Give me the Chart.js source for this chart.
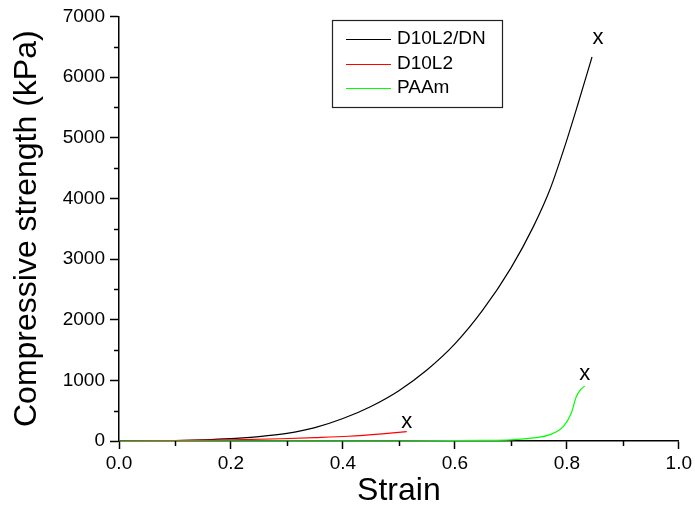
<!DOCTYPE html>
<html>
<head>
<meta charset="utf-8">
<script src="https://cdn.jsdelivr.net/npm/chart.js@4"></script>
<style>
  html, body { margin: 0; padding: 0; background: #fff; }
  #wrap { width: 695px; height: 510px; }
</style>
</head>
<body>
<div id="wrap"><canvas id="chart" width="695" height="510"></canvas></div>
<script>
// values (strain, kPa)
const dnStrain = [0, 0.05, 0.1, 0.15, 0.2, 0.25, 0.3, 0.35, 0.4, 0.45, 0.5, 0.55, 0.6, 0.65, 0.7, 0.74, 0.77, 0.795, 0.82, 0.845];
const dnStress = [0, 2, 8, 20, 40, 72, 125, 220, 370, 570, 830, 1170, 1600, 2160, 2850, 3530, 4150, 4820, 5560, 6330];

const d10Strain = [0, 0.1, 0.2, 0.29, 0.35, 0.41, 0.47, 0.514];
const d10Stress = [0, 6, 18, 37, 55, 78, 118, 155];

const paamStrain = [0, 0.3, 0.5, 0.6, 0.65, 0.7, 0.74, 0.77, 0.794, 0.808, 0.817, 0.825, 0.832];
const paamStress = [0, 1, 3, 6, 10, 20, 50, 105, 240, 460, 733, 850, 905];

const seriesLabels = ['D10L2/DN', 'D10L2', 'PAAm'];
const seriesColors = ['#000000', '#ff0000', '#00ff00'];

const FONT = '"Liberation Sans", Arial, sans-serif';

const toPoints = (xs, ys) => xs.map((x, i) => ({ x: x, y: ys[i] }));

// "x" drawn above the last point of each curve (failure point)
const endMarks = {
    id: 'endMarks',
    afterDatasetsDraw(chart) {
        const ctx = chart.ctx;
        const xs = chart.scales.x, ys = chart.scales.y;
        ctx.save();
        ctx.fillStyle = '#000';
        ctx.font = '22px ' + FONT;
        ctx.textAlign = 'center';
        ctx.textBaseline = 'alphabetic';
        chart.data.datasets.forEach(ds => {
            const last = ds.data[ds.data.length - 1];
            const px = xs.getPixelForValue(last.x) + ds.markDx;
            const py = ys.getPixelForValue(last.y) + ds.markDy;
            ctx.fillText('x', px, py);
        });
        ctx.restore();
    }
};

// minor ticks (half length) on both axes
const minorTicks = {
    id: 'minorTicks',
    afterDraw(chart) {
        const ctx = chart.ctx;
        const xs = chart.scales.x, ys = chart.scales.y;
        ctx.save();
        ctx.strokeStyle = '#000';
        ctx.lineWidth = 1.5;
        ys.ticks.forEach(t => {
            if (t.value % 1000 !== 0) {
                const y = Math.round(ys.getPixelForValue(t.value)) + 0.5;
                ctx.beginPath();
                ctx.moveTo(ys.right, y);
                ctx.lineTo(ys.right - 5, y);
                ctx.stroke();
            }
        });
        xs.ticks.forEach(t => {
            if (Math.round(t.value * 10) % 2 !== 0) {
                const x = Math.round(xs.getPixelForValue(t.value)) + 0.5;
                ctx.beginPath();
                ctx.moveTo(x, xs.top);
                ctx.lineTo(x, xs.top + 5);
                ctx.stroke();
            }
        });
        ctx.restore();
    }
};

// boxed legend inside the plot
const boxLegend = {
    id: 'boxLegend',
    afterDraw(chart) {
        const ctx = chart.ctx;
        ctx.save();
        ctx.strokeStyle = '#222';
        ctx.lineWidth = 1.2;
        ctx.strokeRect(332.5, 20.5, 170, 87);
        ctx.font = '19px ' + FONT;
        ctx.textBaseline = 'middle';
        ctx.textAlign = 'left';
        chart.data.datasets.forEach((ds, i) => {
            const y = 39 + i * 24.5;
            ctx.strokeStyle = ds.borderColor;
            ctx.lineWidth = 1;
            ctx.beginPath();
            ctx.moveTo(346, Math.round(y) + 0.5);
            ctx.lineTo(391, Math.round(y) + 0.5);
            ctx.stroke();
            ctx.fillStyle = '#000';
            ctx.fillText(ds.label, 397, y);
        });
        ctx.restore();
    }
};

const datasets = [
    { label: seriesLabels[0], data: toPoints(dnStrain, dnStress), borderColor: seriesColors[0], order: 3, markDx: 6, markDy: -13 },
    { label: seriesLabels[1], data: toPoints(d10Strain, d10Stress), borderColor: seriesColors[1], order: 2, markDx: 0, markDy: -3.5 },
    { label: seriesLabels[2], data: toPoints(paamStrain, paamStress), borderColor: seriesColors[2], order: 1, markDx: 0, markDy: -6.5 }
].map(ds => Object.assign(ds, {
    showLine: true,
    borderWidth: 1.2,
    pointRadius: 0,
    cubicInterpolationMode: 'monotone',
    fill: false
}));

new Chart(document.getElementById('chart').getContext('2d'), {
    type: 'scatter',
    data: { datasets: datasets },
    options: {
        responsive: false,
        animation: false,
        devicePixelRatio: 1,
        layout: { padding: { top: 15, right: 16, left: 0, bottom: 0 } },
        plugins: { legend: { display: false }, tooltip: { enabled: false } },
        scales: {
            x: {
                type: 'linear',
                min: 0, max: 1,
                afterFit: s => { s.height = 69; },
                border: { display: true, color: '#000', width: 1.5 },
                grid: {
                    drawOnChartArea: false,
                    tickLength: 8,
                    tickWidth: 1.5,
                    tickColor: c => (Math.round(c.tick.value * 10) % 2 === 0 ? '#000' : 'rgba(0,0,0,0)')
                },
                ticks: {
                    stepSize: 0.1,
                    color: '#000',
                    padding: 3,
                    maxRotation: 0,
                    autoSkip: false,
                    font: { family: FONT, size: 19 },
                    callback: v => (Math.round(v * 10) % 2 === 0 ? v.toFixed(1) : '')
                },
                title: {
                    display: true,
                    text: 'Strain',
                    color: '#000',
                    font: { family: FONT, size: 32 },
                    padding: { top: 0, bottom: 0 }
                }
            },
            y: {
                type: 'linear',
                min: 0, max: 7000,
                afterFit: s => { s.width = 119; },
                border: { display: true, color: '#000', width: 1.5 },
                grid: {
                    drawOnChartArea: false,
                    tickLength: 9,
                    tickWidth: 1.5,
                    tickColor: c => (c.tick.value % 1000 === 0 ? '#000' : 'rgba(0,0,0,0)')
                },
                ticks: {
                    stepSize: 500,
                    color: '#000',
                    padding: 5,
                    autoSkip: false,
                    font: { family: FONT, size: 19 },
                    callback: v => (v % 1000 === 0 ? String(v) : '')
                },
                title: {
                    display: true,
                    text: 'Compressive strength (kPa)',
                    color: '#000',
                    font: { family: FONT, size: 32 },
                    padding: { top: 8, bottom: 0 }
                }
            }
        }
    },
    plugins: [endMarks, minorTicks, boxLegend]
});
</script>
</body>
</html>
